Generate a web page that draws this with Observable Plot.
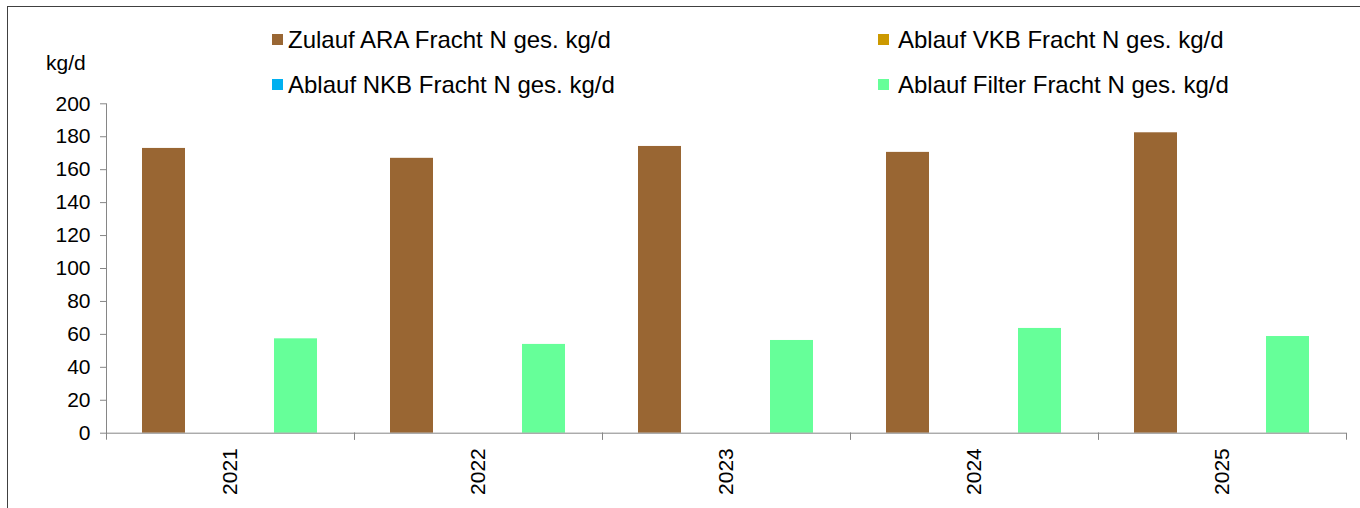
<!DOCTYPE html>
<html>
<head>
<meta charset="utf-8">
<script src="https://cdn.jsdelivr.net/npm/d3@7"></script>
<script src="https://cdn.jsdelivr.net/npm/@observablehq/plot@0.6"></script>
<style>
  body { margin: 0; background: #fff; }
  #wrap { position: relative; width: 1360px; height: 508px; overflow: hidden; background: #fff;
          font-family: "Liberation Sans", Arial, sans-serif; color: #000; }
  #border { position: absolute; left: 7px; top: 6px; width: 2000px; height: 1000px;
            border-top: 1px solid #404040; border-left: 1px solid #404040; pointer-events: none; z-index: 5; }
  #head { position: relative; height: 90px; }
  .sw { position: absolute; width: 11px; height: 11px; }
  .lt { position: absolute; font-size: 24px; line-height: 28px; white-space: nowrap; }
  #unit { position: absolute; left: 46px; top: 51px; font-size: 21px; line-height: 24px; }
  #chart svg { display: block; overflow: visible; }
</style>
</head>
<body>
<div id="wrap">
  <div id="border"></div>
  <div id="head"></div>
  <div id="chart"></div>
</div>
<script>
const years = ["2021", "2022", "2023", "2024", "2025"];
const seriesNames = [
  "Zulauf ARA Fracht N ges. kg/d",
  "Ablauf VKB Fracht N ges. kg/d",
  "Ablauf NKB Fracht N ges. kg/d",
  "Ablauf Filter Fracht N ges. kg/d"
];
const zulaufARA = [172.9, 166.9, 174.1, 170.5, 182.4];
const ablaufVKB = [0, 0, 0, 0, 0];
const ablaufNKB = [0, 0, 0, 0, 0];
const ablaufFilter = [57.3, 53.9, 56.3, 63.6, 58.7];
const seriesColors = ["#996633", "#CC9900", "#00B0F0", "#66FF99"];
const yTicks = [0, 20, 40, 60, 80, 100, 120, 140, 160, 180, 200];
const unitLabel = "kg/d";

const seriesValues = [zulaufARA, ablaufVKB, ablaufNKB, ablaufFilter];
const data = [];
years.forEach((yr, i) => {
  seriesNames.forEach((s, j) => data.push({year: yr, series: s, value: seriesValues[j][i]}));
});

// Legend (HTML, above the SVG)
const head = document.getElementById("head");
const legendPos = [
  {sx: 272, sy: 34, tx: 288, ty: 26},
  {sx: 878, sy: 34, tx: 898, ty: 26},
  {sx: 272, sy: 79, tx: 288, ty: 71},
  {sx: 878, sy: 79, tx: 898, ty: 71}
];
seriesNames.forEach((s, j) => {
  const p = legendPos[j];
  const sw = document.createElement("div");
  sw.className = "sw";
  sw.style.left = p.sx + "px";
  sw.style.top = p.sy + "px";
  sw.style.background = seriesColors[j];
  head.appendChild(sw);
  const t = document.createElement("div");
  t.className = "lt";
  t.style.left = p.tx + "px";
  t.style.top = p.ty + "px";
  t.textContent = s;
  head.appendChild(t);
});
const unit = document.createElement("div");
unit.id = "unit";
unit.textContent = unitLabel;
head.appendChild(unit);

const W = 1360, H = 418, mT = 13.3, mB = 75.3, mL = 104, mR = 12;
const innerH = H - mT - mB;
const axisGray = "#868686";

const chart = Plot.plot({
  width: W,
  height: H,
  marginTop: mT,
  marginBottom: mB,
  marginLeft: mL,
  marginRight: mR,
  style: {fontFamily: '"Liberation Sans", Arial, sans-serif', background: "transparent", overflow: "visible"},
  fx: {domain: years, padding: 0, label: null},
  x: {domain: seriesNames, paddingInner: 0.012, paddingOuter: 0.77, axis: null},
  y: {domain: [0, 200]},
  color: {domain: seriesNames, range: seriesColors},
  marks: [
    Plot.barY(data, {fx: "year", x: "series", y: "value", fill: "series"}),
    Plot.ruleY([0], {stroke: axisGray}),
    Plot.frame({anchor: "left", facetAnchor: "left", stroke: axisGray}),
    Plot.frame({anchor: "left", insetTop: innerH, insetBottom: -6, stroke: axisGray}),
    Plot.frame({anchor: "right", insetTop: innerH, insetBottom: -6, stroke: axisGray}),
    Plot.axisY({ticks: yTicks, tickSize: 6, tickPadding: 10, fontSize: 21, stroke: axisGray, fill: "#000", label: null, tickFormat: d => String(d)}),
    Plot.axisFx({anchor: "bottom", tickRotate: -90, tickSize: 0, tickPadding: 15, fontSize: 21, fill: "#000", label: null})
  ]
});
document.getElementById("chart").appendChild(chart);
</script>
</body>
</html>
